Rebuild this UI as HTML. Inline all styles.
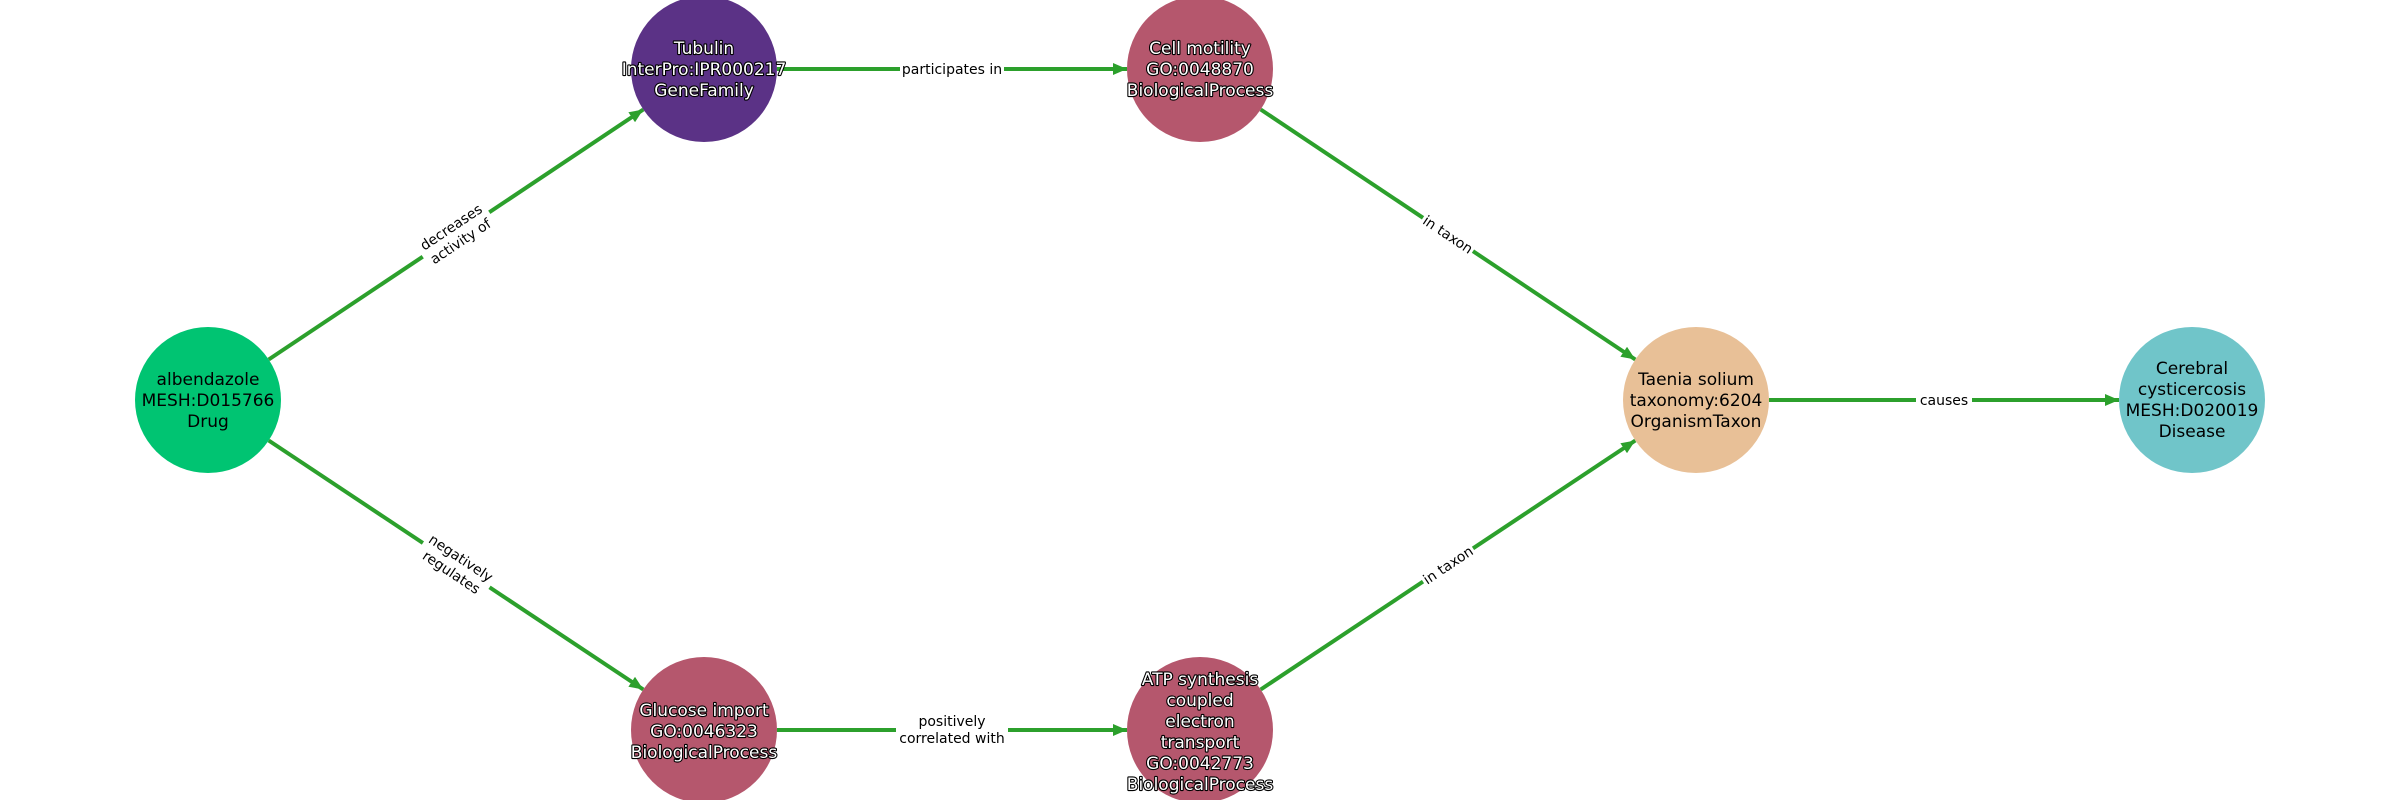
<!DOCTYPE html>
<html><head><meta charset="utf-8"><style>
html,body{margin:0;padding:0;background:#fff;}
svg{display:block;}
text{font-family:"DejaVu Sans","Liberation Sans",sans-serif;}
.n{font-size:17px;text-anchor:middle;}
.w{fill:#fff;stroke:#000;stroke-width:2.2px;paint-order:stroke;stroke-linejoin:round;}
.b{fill:#000;}
.e{font-size:14px;text-anchor:middle;fill:#000;}
.ln{stroke:#2ca02c;stroke-width:4;fill:none;marker-end:url(#ah);}
</style></head><body>
<svg width="2400" height="800" viewBox="0 0 2400 800" xmlns="http://www.w3.org/2000/svg">
<defs><marker id="ah" markerUnits="userSpaceOnUse" markerWidth="16" markerHeight="12" refX="14" refY="6" orient="auto"><path d="M0,0 L14,6 L0,12 Z" fill="#2ca02c"/></marker></defs>
<line class="ln" x1="268.7" y1="359.5" x2="643.3" y2="109.5"/>
<line class="ln" x1="268.7" y1="440.5" x2="643.3" y2="689.5"/>
<line class="ln" x1="777" y1="69" x2="1127" y2="69"/>
<line class="ln" x1="777" y1="730" x2="1127" y2="730"/>
<line class="ln" x1="1260.7" y1="109.5" x2="1635.3" y2="359.5"/>
<line class="ln" x1="1260.7" y1="689.5" x2="1635.3" y2="440.5"/>
<line class="ln" x1="1769" y1="400" x2="2119" y2="400"/>
<g transform="translate(456,234.5) rotate(-33.7)"><rect x="-40" y="-19" width="80" height="38" fill="#fff"/><text class="e" y="-4">decreases</text><text class="e" y="13">activity of</text></g>
<g transform="translate(456,565.5) rotate(33.7)"><rect x="-40" y="-19" width="80" height="38" fill="#fff"/><text class="e" y="-4">negatively</text><text class="e" y="13">regulates</text></g>
<g transform="translate(952,69)"><rect x="-52" y="-10" width="104" height="20" fill="#fff"/><text class="e" y="5">participates in</text></g>
<g transform="translate(952,730)"><rect x="-56" y="-19" width="112" height="38" fill="#fff"/><text class="e" y="-4">positively</text><text class="e" y="13">correlated with</text></g>
<g transform="translate(1448,234.5) rotate(33.7)"><rect x="-30" y="-10" width="60" height="20" fill="#fff"/><text class="e" y="5">in taxon</text></g>
<g transform="translate(1448,565) rotate(-33.7)"><rect x="-30" y="-10" width="60" height="20" fill="#fff"/><text class="e" y="5">in taxon</text></g>
<g transform="translate(1944,400)"><rect x="-28" y="-10" width="56" height="20" fill="#fff"/><text class="e" y="5">causes</text></g>
<circle cx="208" cy="400" r="73" fill="#00c472"/>
<text class="n b" x="208" y="385">albendazole</text><text class="n b" x="208" y="406">MESH:D015766</text><text class="n b" x="208" y="427">Drug</text>
<circle cx="704" cy="69" r="73" fill="#5b3286"/>
<text class="n w" x="704" y="54">Tubulin</text><text class="n w" x="704" y="75">InterPro:IPR000217</text><text class="n w" x="704" y="96">GeneFamily</text>
<circle cx="1200" cy="69" r="73" fill="#b5576d"/>
<text class="n w" x="1200" y="54">Cell motility</text><text class="n w" x="1200" y="75">GO:0048870</text><text class="n w" x="1200" y="96">BiologicalProcess</text>
<circle cx="704" cy="730" r="73" fill="#b5576d"/>
<text class="n w" x="704" y="716">Glucose import</text><text class="n w" x="704" y="737">GO:0046323</text><text class="n w" x="704" y="758">BiologicalProcess</text>
<circle cx="1200" cy="730" r="73" fill="#b5576d"/>
<text class="n w" x="1200" y="685">ATP synthesis</text><text class="n w" x="1200" y="706">coupled</text><text class="n w" x="1200" y="727">electron</text><text class="n w" x="1200" y="748">transport</text><text class="n w" x="1200" y="769">GO:0042773</text><text class="n w" x="1200" y="790">BiologicalProcess</text>
<circle cx="1696" cy="400" r="73" fill="#e8c097"/>
<text class="n b" x="1696" y="385">Taenia solium</text><text class="n b" x="1696" y="406">taxonomy:6204</text><text class="n b" x="1696" y="427">OrganismTaxon</text>
<circle cx="2192" cy="400" r="73" fill="#70c5c9"/>
<text class="n b" x="2192" y="374">Cerebral</text><text class="n b" x="2192" y="395">cysticercosis</text><text class="n b" x="2192" y="416">MESH:D020019</text><text class="n b" x="2192" y="437">Disease</text>
</svg>
</body></html>
